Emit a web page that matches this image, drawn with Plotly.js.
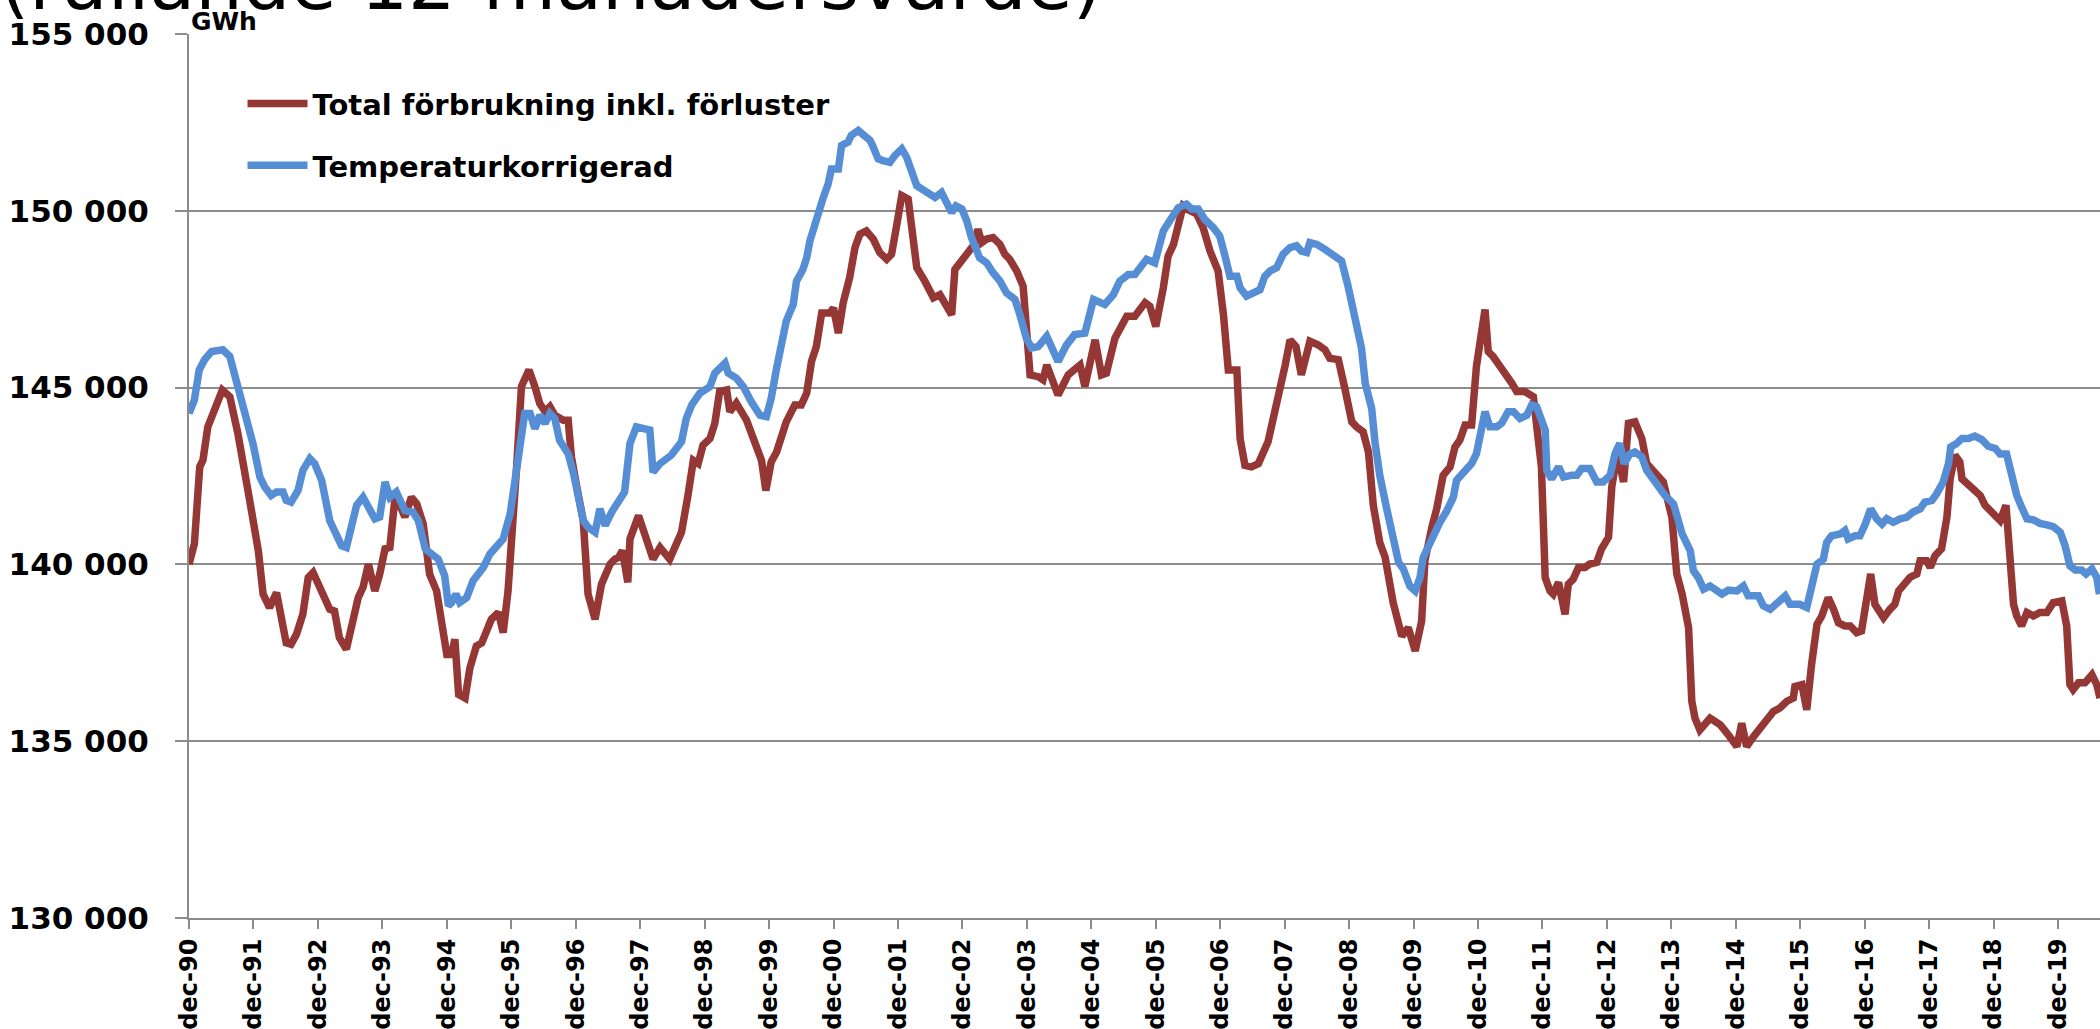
<!DOCTYPE html>
<html>
<head>
<meta charset="utf-8">
<script src="https://cdn.plot.ly/plotly-3.0.1.min.js"></script>
<style>
    body { margin: 0; background: #ffffff; }
    #graph { width: 2100px; height: 1029px; }
</style>
</head>
<body>
<div id="graph"></div>
<script>
// months counted from dec-90 (0 = dec-90), values in GWh
const redMonth = [0, 1, 2, 2.6, 3.5, 4.8, 6.2, 7.6, 9.1, 11.3, 12.9, 13.8, 15, 16.3, 17.2, 18.1, 19, 20, 21.2, 22.2, 23.1, 24.3, 26.2, 27.1, 28, 29.3, 30.6, 31.5, 32.4, 33.4, 34.6, 35.5, 36.5, 37.4, 38.3, 38.9,
    40.2, 41.4, 42.4, 43.6, 44.8, 46.1, 47, 48, 48.9, 49.5, 50.2, 51.4, 52.3, 53.5, 54.5, 55.4, 56.3, 57.6, 58.5, 59.4, 60, 61, 61.9, 63.3, 64.4, 65.3, 66.3, 67.2, 68.1, 69.7, 70.6, 71.2, 72.2, 73.4, 74.3, 75.6, 76.8, 78.4, 79.3, 80, 80.7, 81.7, 82.1, 83.7,
    86.4, 87.7, 89.5, 91.7, 92.9, 93.9, 94.8, 95.7, 97, 97.9, 98.8, 100.1, 100.7, 101.9, 103.8, 105.4, 106.6, 107.4, 108.4, 109.4, 111.2, 112.8, 114, 115, 115.9, 116.8, 117.8, 119.3, 120, 120.9, 121.8, 123, 124, 124.9, 126.1, 127.4, 128.6, 129.9, 130.8, 131.7, 132.7, 133.9, 134.5, 135.5, 137, 138.6, 139.8,
    141, 142, 142.6, 143.5, 144.8, 146, 146.9, 147.6, 148.5, 149.7, 151, 151.9, 152.8, 154.1, 155.3, 155.9, 156.6, 158.1, 159, 159.7, 161.8, 163.7, 165.9, 166.8, 168.7, 169.9, 170.8, 172.4, 174.6, 176.1, 178, 178.9, 180, 181.4, 182.3, 183.3, 184.2, 185.1, 186.4, 187.6, 188.8, 190.1, 191.6, 192.6, 193.5, 195.1, 195.7, 196.6, 197.8, 199.1,
    200.9, 201.9, 203.1, 204.1, 205, 206.1, 207.1, 208.7, 210.2, 211.5, 212.4, 214, 215.2, 216.5, 217.4, 218.6, 219.6, 220.5, 221.7, 222.7, 224.2, 225.8, 227, 228.3, 229.5, 230.1, 231.4, 232.3, 233.5, 234.8, 235.7, 236.6, 237.6, 238.8, 239.7, 240.4, 241.3, 241.9, 242.8, 244.1, 245.3, 246.3, 247.2, 248.7,
    250.3, 250.9, 251.8, 252.5, 253.4, 254, 255, 256.2, 256.8, 257.7, 258.7, 259.9, 260.8, 262.1, 263, 264.3, 264.9, 265.5, 266.1, 267.1, 268, 269.2, 270.5, 271.4, 273, 274.5, 275.4, 276.1, 277, 278, 279.2, 279.8, 280.4, 281.3, 283.2, 285.1, 286.6, 288.2, 289.1, 290, 291.3, 292.5, 293.7, 295, 296.2, 297.5, 298.7, 299,
    300.3, 301.2, 302.1, 303.1, 304, 305.2, 306.2, 307.1, 308.3, 309.3, 310.5, 311.4, 312.4, 313.1, 313.9, 315.5, 316.7, 317.6, 318.3, 319.5, 320.4, 321.7, 322.3, 323.5, 324.2, 325.1, 326.3, 327.3, 327.9, 328.8, 329.7, 330.1, 331.3, 332.5, 333.5, 334.4, 336, 337.2, 338.3, 339.1, 339.7,
    340.3, 341.2, 342.2, 343.4, 344.6, 345.9, 347.1, 348.7, 349.6, 350.2, 350.8, 351.8, 353, 354.3, 355.2, 355.8];
const redGWh = [140000, 140580, 142760, 142950, 143890, 144370, 144930, 144740, 143700, 141810, 140390, 139160, 138780, 139200, 138590, 137780, 137740, 138020, 138590, 139630, 139770, 139350, 138730, 138680, 137930, 137600, 138400, 139060, 139350, 140010, 139250, 139720, 140440, 140480, 141810, 141810,
    141340, 141900, 141710, 141150, 139720, 139250, 138400, 137450, 137450, 137880, 136320, 136220, 137070, 137690, 137780, 138070, 138450, 138640, 138070, 139250, 140390, 142760, 145030, 145500, 145030, 144550, 144320, 144460, 144220, 144080, 144080, 143040, 142190, 141240, 139160, 138450, 139440, 140010, 140150, 140200, 140390, 139490, 140720, 141380,
    140150, 140480, 140150, 140910, 141950, 142940, 142850, 143370, 143560, 143990, 144890, 144930, 144320, 144560, 144080, 143470, 142940, 142090, 142900, 143180, 144030, 144510, 144510, 144840, 145740, 146160, 147110, 147110, 147250, 146540, 147400, 148110, 148960, 149340, 149430, 149200, 148820, 148630, 148770, 149530, 150430, 150330, 149430, 148390, 148010, 147540, 147630,
    147300, 147060, 148340, 148530, 148770, 149010, 149480, 149100, 149200, 149240, 149050, 148770, 148630, 148300, 147870, 146880, 145360, 145310, 145220, 145640, 144790, 145360, 145640, 145030, 146350, 145360, 145410, 146400, 147020, 147020, 147400, 147300, 146730, 147820, 148720, 149050, 149620, 150140, 150000, 149910, 149530, 148860, 148300, 147060, 145500, 145500, 143560, 142800, 142760, 142850,
    143470, 144130, 144790, 145640, 146350, 146160, 145360, 146310, 146210, 146070, 145830, 145790, 144980, 144030, 143890, 143750, 143180, 141670, 140620, 140200, 138920, 137970, 138210, 137550, 138400, 140100, 141050, 141570, 142520, 142760, 143320, 143510, 143940, 143940, 145600, 146350, 147210, 146020, 145880, 145600, 145360, 145120, 144890, 144890,
    144740, 144080, 142760, 139630, 139250, 139160, 139490, 138590, 139440, 139580, 139910, 139910, 140010, 140060, 140440, 140770, 142190, 142760, 143040, 142330, 143990, 144030, 143560, 142850, 142570, 142330, 141760, 141330, 139730, 139160, 138210, 136130, 135650, 135320, 135650, 135460, 135180, 134850, 135510, 134850, 135130, 135370, 135560, 135840, 135940, 136130, 136220, 136550,
    136600, 135890, 137170, 138300, 138540, 139060, 138730, 138350, 138260, 138260, 138070, 138120, 139060, 139730, 138870, 138490, 138730, 138870, 139250, 139440, 139630, 139730, 140100, 140100, 139920, 140250, 140440, 141340, 142420, 143090, 142900, 142420, 142230, 142090, 141950, 141670, 141380, 141240, 141670, 140100, 138870,
    138540, 138260, 138640, 138540, 138640, 138640, 138920, 138970, 138260, 136600, 136460, 136650, 136650, 136880, 136600, 136220];

const blueMonth = [0, 1, 1.9, 2.9, 4.2, 5.7, 6.3, 7.6, 9.1, 10.4, 11.9, 13.2, 14.1, 15.3, 16.3, 17.5, 18.1, 19, 20.3, 21.2, 22.5, 23.4, 24.7, 26.2, 27.5, 28.4, 29.3, 30.3, 31.2, 32.4, 33.4, 34.6, 35.5, 36.5, 37.4, 38.6,
    40.2, 41.7, 42.7, 44, 45.2, 46.4, 47.6, 48.3, 48.9, 49.7, 50.4, 51.7, 52.9, 53.9, 54.8, 56, 57.6, 58.5, 59.8, 61, 61.9, 62.5, 63.5, 64.4, 65.3, 66.3, 67.2, 68.1, 69, 70.6, 71.6, 72.5, 73.4, 74.3, 75.6, 76.5, 77.5, 78.7, 80.2, 81.1, 82.1, 83.3,
    85.8, 86.4, 87.7, 89.8, 91.7, 92.6, 93.6, 95.1, 97, 97.9, 99.8, 100.4, 101.9, 103.2, 104.7, 106.3, 107.5, 108.4, 109.4, 110.3, 111.2, 112.5, 113.1, 114.3, 115, 115.6, 116.8, 118.1, 119, 119.6, 120.9, 121.5, 122.7, 123.3, 124.6, 125.8, 126.8, 127.4, 128.3, 129.2, 130.5, 131.4, 132.7, 133.6, 134.5, 135.5, 136.4, 137.6, 138.9,
    140.1, 141, 142, 142.8, 143.9, 144.8, 145.7, 147.2, 148.5, 149.7, 151, 152.2, 153.8, 154.7, 155.9, 156.9, 158.1, 159.7, 161.8, 163.4, 164.9, 166.8, 168.4, 170.5, 172.1, 173.3, 174.9, 176.1, 178.3, 179.8, 181.4, 182.6, 184.2, 185.7, 186.7, 187.9, 189.1, 190.7, 191.9, 192.9, 193.8, 195.1, 195.7, 196.9, 198.1, 199.4,
    200.3, 201.3, 202.5, 203.7, 205, 206.2, 207.1, 208.1, 208.7, 210, 211.5, 213.1, 214.6, 215.8, 216.5, 217.1, 218.3, 219, 220.2, 220.8, 221.7, 223, 224.2, 225.2, 226.1, 227.3, 228.3, 229.2, 229.8, 231.1, 232, 232.9, 234.2, 235.4, 236, 237.3, 238.8, 239.7, 240.4, 241.3, 242.2, 243.5, 244.4, 245.6, 246.6, 247.8, 249.1,
    250, 250.9, 251.5, 252.5, 252.8, 253.7, 255, 255.9, 257.4, 258.4, 259.3, 260.8, 262.1, 263.3, 264.6, 265.5, 266.4, 267.2, 268.3, 269.2, 270.5, 271.4, 273, 274.8, 276.4, 277, 278, 279.5, 280.1, 281, 282, 283.2, 285.4, 286.6, 288.2, 289.4, 290.3, 292.2, 293.1, 294.4, 295.6, 297.2, 298.1, 299.9,
    301.2, 302.1, 303.1, 304.3, 304.9, 305.8, 307.4, 308.3, 308.9, 310.2, 311.1, 312.1, 313.1, 314.2, 315.2, 316.1, 317.3, 318.6, 319.8, 321, 322.3, 323.2, 324.5, 325.4, 326.6, 327.6, 328, 329.1, 330.1, 331.3, 332.5, 333.8, 335, 336.3, 337.2, 338.4, 339.4,
    340.3, 341.2, 342.2, 343.4, 344.6, 345.9, 347.1, 348.4, 349.3, 350.2, 351.2, 352.4, 353.2, 354.3, 355.2, 355.7];
const blueGWh = [144270, 144650, 145500, 145790, 146020, 146020, 146070, 145880, 145030, 144270, 143420, 142470, 142190, 141950, 142050, 142050, 141810, 141760, 142090, 142660, 142990, 142850, 142380, 141240, 140770, 140530, 140480, 141050, 141670, 141900, 141620, 141290, 141340, 142330, 141900, 142050,
    141520, 141480, 141240, 140440, 140290, 140150, 139680, 138830, 138920, 139160, 138920, 139060, 139540, 139720, 139910, 140290, 140580, 140720, 141430, 142570, 143700, 144270, 144270, 143840, 144220, 143990, 144270, 144130, 143510, 143130, 142570, 142000, 141240, 141050, 140910, 141570, 141100, 141480, 141810, 142050, 143420, 143890,
    143800, 142610, 142850, 143090, 143470, 144130, 144510, 144840, 145030, 145410, 145690, 145410, 145270, 145030, 144600, 144220, 144180, 144700, 145550, 146310, 146880, 147350, 148010, 148340, 148670, 149150, 149810, 150380, 150760, 151180, 151180, 151850, 151940, 152130, 152270, 152130, 151990, 151800, 151470, 151420, 151370, 151560, 151750, 151520, 151140, 150710, 150620, 150520, 150380,
    150520, 150240, 149950, 150140, 150050, 149720, 149240, 148670, 148530, 148250, 148010, 147680, 147490, 147060, 146400, 146120, 146160, 146450, 145740, 146210, 146500, 146540, 147490, 147350, 147630, 148010, 148200, 148200, 148630, 148530, 149430, 149720, 150090, 150190, 150050, 150050, 149760, 149530, 149290, 148720, 148150, 148150, 147820, 147590, 147680, 147770,
    148150, 148300, 148390, 148770, 148960, 149010, 148860, 148820, 149100, 149050, 148910, 148770, 148580, 147870, 147440, 146880, 146120, 145120, 144410, 143470, 142520, 141570, 140720, 140060, 139870, 139390, 139250, 139630, 140200, 140670, 140960, 141190, 141520, 141900, 142380, 142610, 142850, 143130, 143610, 144320, 143890, 143890, 143990, 144320, 144320, 144130, 144220,
    144510, 144460, 144180, 143800, 142660, 142420, 142760, 142470, 142520, 142520, 142710, 142710, 142330, 142330, 142520, 143130, 143420, 142850, 143130, 143180, 143040, 142660, 142330, 141950, 141710, 141330, 140860, 140390, 139820, 139630, 139300, 139390, 139160, 139270, 139250, 139390, 139110, 139110, 138830, 138730, 138870, 139110, 138870, 138870,
    138780, 139350, 140010, 140150, 140620, 140810, 140860, 140960, 140720, 140810, 140810, 141140, 141570, 141290, 141140, 141290, 141190, 141290, 141330, 141480, 141570, 141760, 141810, 142000, 142330, 142850, 143320, 143420, 143560, 143560, 143630, 143530, 143340, 143280, 143120, 143120, 142470,
    141950, 141620, 141290, 141260, 141160, 141120, 141070, 140910, 140530, 139960, 139840, 139840, 139730, 139870, 139630, 139160];

const tickMonths = [0, 12, 24, 36, 48, 60, 72, 84, 96, 108, 120, 132, 144, 156, 168, 180, 192, 204, 216, 228, 240, 252, 264, 276, 288, 300, 312, 324, 336, 348];
const tickLabels = ['dec-90', 'dec-91', 'dec-92', 'dec-93', 'dec-94', 'dec-95', 'dec-96', 'dec-97', 'dec-98', 'dec-99',
    'dec-00', 'dec-01', 'dec-02', 'dec-03', 'dec-04', 'dec-05', 'dec-06', 'dec-07', 'dec-08', 'dec-09',
    'dec-10', 'dec-11', 'dec-12', 'dec-13', 'dec-14', 'dec-15', 'dec-16', 'dec-17', 'dec-18', 'dec-19'];
const yTicks = [130000, 135000, 140000, 145000, 150000, 155000];
const yLabels = ['130 000', '135 000', '140 000', '145 000', '150 000', '155 000'];

const seriesNames = ['Total förbrukning inkl. förluster', 'Temperaturkorrigerad'];
const seriesColors = ['#953735', '#558ed5'];

const FONT = 'DejaVu Sans, sans-serif';
const GRID = '#8c8c8c';

function makeTrace(x, y, i) {
    return {
        x: x,
        y: y,
        mode: 'lines',
        type: 'scatter',
        name: seriesNames[i],
        legendgroup: 'g' + i,
        line: { color: seriesColors[i], width: 7.5 }
    };
}

const traces = [
    makeTrace(redMonth, redGWh, 0),
    makeTrace(blueMonth, blueGWh, 1)
];

const layout = {
    width: 2100,
    height: 1029,
    margin: { l: 189, r: 0, t: 34, b: 111 },
    paper_bgcolor: '#ffffff',
    plot_bgcolor: '#ffffff',
    showlegend: true,
    legend: {
        x: 0.028,
        y: 0.95,
        xanchor: 'left',
        yanchor: 'top',
        bgcolor: 'rgba(0,0,0,0)',
        traceorder: 'grouped',
        tracegroupgap: 21,
        itemwidth: 60,
        font: { family: FONT, size: 29, color: '#000000', weight: 'bold' }
    },
    xaxis: {
        range: [0, 355.8],
        tickmode: 'array',
        tickvals: tickMonths,
        ticktext: tickLabels,
        tickangle: -90,
        ticks: 'outside',
        ticklen: 9,
        tickwidth: 2,
        tickcolor: GRID,
        ticklabelstandoff: 0,
        showgrid: false,
        showline: true,
        linecolor: GRID,
        linewidth: 2,
        zeroline: false,
        tickfont: { family: FONT, size: 24, color: '#000000', weight: 'bold' }
    },
    yaxis: {
        range: [130000, 155000],
        tickmode: 'array',
        tickvals: yTicks,
        ticktext: yLabels,
        ticks: 'outside',
        ticklen: 12,
        tickwidth: 2,
        tickcolor: GRID,
        ticklabelstandoff: 20,
        showgrid: true,
        gridcolor: GRID,
        gridwidth: 2,
        showline: true,
        linecolor: GRID,
        linewidth: 2,
        zeroline: false,
        tickfont: { family: FONT, size: 31, color: '#000000', weight: 'bold' }
    },
    annotations: [
        {
            text: '(rullande 12-månadersvärde)',
            xref: 'paper', yref: 'paper',
            x: -0.1, y: 1.0055,
            xanchor: 'left', yanchor: 'bottom',
            showarrow: false,
            font: { family: FONT, size: 75, color: '#000000' }
        },
        {
            text: 'GWh',
            xref: 'paper', yref: 'paper',
            x: 0, y: 1.014,
            xanchor: 'left', yanchor: 'middle',
            showarrow: false,
            font: { family: FONT, size: 25, color: '#000000', weight: 'bold' }
        }
    ]
};

Plotly.newPlot('graph', traces, layout, { staticPlot: true });
</script>
</body>
</html>
